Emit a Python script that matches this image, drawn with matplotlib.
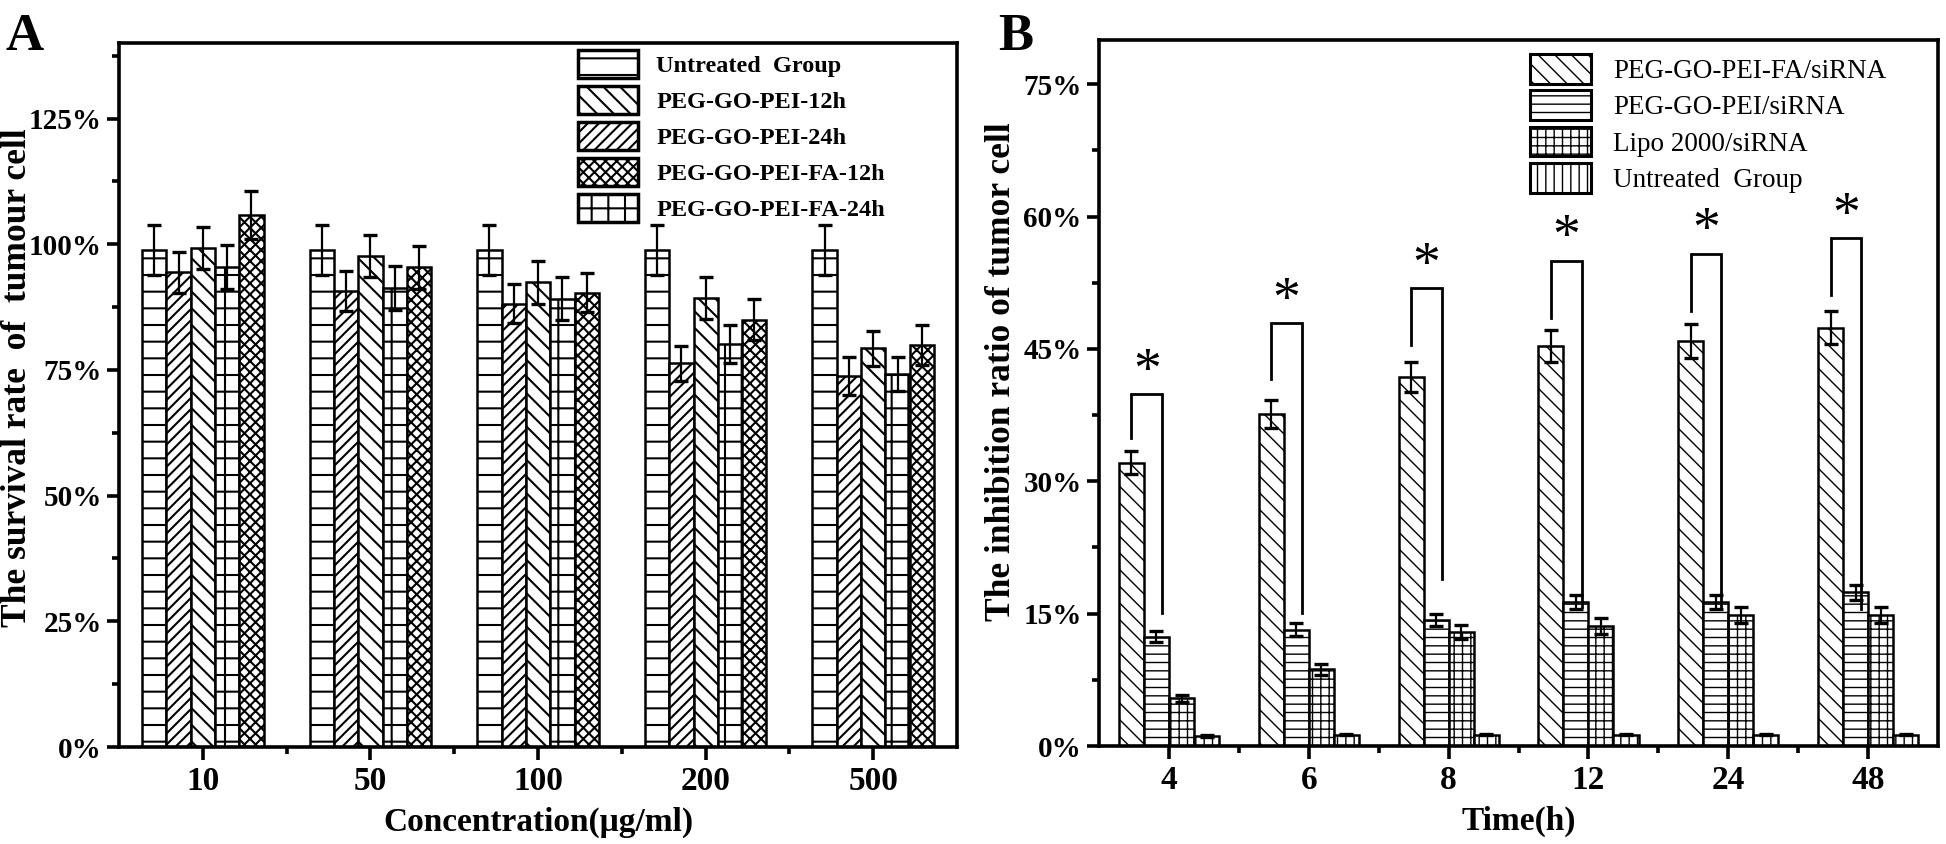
import matplotlib
matplotlib.use('Agg')
import matplotlib.pyplot as plt
from matplotlib.patches import Patch
from matplotlib.ticker import MultipleLocator, FuncFormatter
import numpy as np

plt.rcParams['font.family'] = ['Liberation Serif', 'DejaVu Serif']
plt.rcParams['font.weight'] = 'bold'

# ---- panel A data (survival rate, %) ----
conc = ['10', '50', '100', '200', '500']
untreated_a = [98.8, 98.8, 98.8, 98.8, 98.8]
untreated_a_err = [5.0, 5.0, 5.0, 5.0, 5.0]
pei_12h = [99.3, 97.7, 92.4, 89.3, 79.3]
pei_12h_err = [4.2, 4.2, 4.3, 4.2, 3.5]
pei_24h = [94.4, 90.7, 88.2, 76.3, 73.8]
pei_24h_err = [4.1, 3.9, 3.8, 3.5, 3.7]
fa_12h = [105.8, 95.4, 90.4, 85.0, 80.0]
fa_12h_err = [4.7, 4.3, 3.9, 4.1, 4.0]
fa_24h = [95.5, 91.3, 89.2, 80.2, 74.2]
fa_24h_err = [4.4, 4.4, 4.3, 3.8, 3.3]

# ---- panel B data (inhibition ratio, %) ----
times = ['4', '6', '8', '12', '24', '48']
fa_sirna = [32.1, 37.6, 41.8, 45.3, 45.9, 47.4]
fa_sirna_err = [1.3, 1.6, 1.7, 1.8, 1.9, 1.9]
pei_sirna = [12.4, 13.2, 14.3, 16.3, 16.3, 17.4]
pei_sirna_err = [0.6, 0.7, 0.7, 0.8, 0.8, 0.8]
lipo_sirna = [5.4, 8.7, 12.9, 13.6, 14.8, 14.8]
lipo_sirna_err = [0.4, 0.6, 0.8, 0.9, 0.9, 0.9]
untreated_b = [1.1, 1.3, 1.3, 1.3, 1.3, 1.3]
untreated_b_err = [0.1, 0.1, 0.1, 0.1, 0.1, 0.1]

# significance brackets in B (top, left leg end, right leg end)
sig_top = [39.9, 47.9, 51.9, 55.0, 55.8, 57.6]
sig_left = [34.9, 41.6, 45.4, 48.5, 49.3, 51.1]
sig_right = [15.1, 15.1, 18.9, 15.8, 15.8, 15.5]

fig = plt.figure(figsize=(19.46, 8.44), dpi=100)
axA = fig.add_axes([0.0612, 0.1149, 0.4306, 0.834])
axB = fig.add_axes([0.5648, 0.1161, 0.4311, 0.8365])


def draw_bars(ax, x, vals, errs, hatch, w, hlw):
    bars = ax.bar(x, vals, w, color='white', edgecolor='black', linewidth=1.8,
                  hatch=hatch, zorder=2)
    for b in bars:
        if hasattr(b, 'set_hatch_linewidth'):
            b.set_hatch_linewidth(hlw)
    ax.errorbar(x, vals, yerr=errs, fmt='none', ecolor='black', elinewidth=1.6,
                capsize=4.7, capthick=2.4, zorder=3)


def style_axis(ax, ymax, ymajor, ylabels_fs, xlabels_fs):
    for s in ax.spines.values():
        s.set_linewidth(2.6)
    ax.set_ylim(0, ymax)
    ax.yaxis.set_major_locator(MultipleLocator(ymajor))
    ax.yaxis.set_minor_locator(MultipleLocator(ymajor / 2))
    ax.yaxis.set_major_formatter(FuncFormatter(lambda v, p: '%d%%' % round(v)))
    ax.tick_params(which='major', direction='out', length=9, width=2.6)
    ax.tick_params(which='minor', direction='out', length=5, width=2.6)
    ax.tick_params(axis='y', labelsize=ylabels_fs)
    ax.tick_params(axis='x', labelsize=xlabels_fs, pad=5)


# ---------------- panel A ----------------
plt.rcParams['hatch.linewidth'] = 1.5
xa = np.arange(len(conc))
wa = 0.145
# drawing order as in the figure
series_a = [
    (untreated_a, untreated_a_err, '-'),
    (pei_24h, pei_24h_err, '///'),
    (pei_12h, pei_12h_err, '\\\\'),
    (fa_24h, fa_24h_err, '+'),
    (fa_12h, fa_12h_err, 'xxx'),
]
for i, (v, e, h) in enumerate(series_a):
    draw_bars(axA, xa + (i - 2) * wa, v, e, h, wa, 1.5)

style_axis(axA, 140, 25, 21, 24)
axA.set_xlim(-0.5, len(conc) - 0.5)
axA.set_xticks(xa)
axA.set_xticklabels(conc)
axA.set_xticks(xa[:-1] + 0.5, minor=True)
axA.set_xlabel('Concentration(μg/ml)', fontsize=24, fontweight='bold')
axA.xaxis.set_label_coords(0.5, -0.085)
axA.set_ylabel('The survival rate  of  tumour cell', fontsize=25.5, fontweight='bold')
axA.yaxis.set_label_coords(-0.102, 0.525)

leg_a = [
    Patch(facecolor='white', edgecolor='black', linewidth=2.5, hatch='-', label='Untreated  Group'),
    Patch(facecolor='white', edgecolor='black', linewidth=2.5, hatch='\\\\', label='PEG-GO-PEI-12h'),
    Patch(facecolor='white', edgecolor='black', linewidth=2.5, hatch='///', label='PEG-GO-PEI-24h'),
    Patch(facecolor='white', edgecolor='black', linewidth=2.5, hatch='xxx', label='PEG-GO-PEI-FA-12h'),
    Patch(facecolor='white', edgecolor='black', linewidth=2.5, hatch='+', label='PEG-GO-PEI-FA-24h'),
]
axA.legend(handles=leg_a, loc='upper left', bbox_to_anchor=(0.548, 0.99), frameon=False,
           prop={'family': 'Liberation Serif', 'weight': 'bold', 'size': 17.5},
           handlelength=2.45, handleheight=1.4, labelspacing=0.32, handletextpad=0.75,
           borderpad=0, borderaxespad=0)

# ---------------- panel B ----------------
plt.rcParams['hatch.linewidth'] = 1.0
xb = np.arange(len(times))
wb = 0.179
series_b = [
    (fa_sirna, fa_sirna_err, '\\\\'),
    (pei_sirna, pei_sirna_err, '--'),
    (lipo_sirna, lipo_sirna_err, '++'),
    (untreated_b, untreated_b_err, '||'),
]
for i, (v, e, h) in enumerate(series_b):
    draw_bars(axB, xb + (i - 1.5) * wb, v, e, h, wb, 1.0)

style_axis(axB, 80, 15, 21, 24)
axB.set_xlim(-0.5, len(times) - 0.5)
axB.set_xticks(xb)
axB.set_xticklabels(times)
axB.set_xticks(xb[:-1] + 0.5, minor=True)
axB.set_xlabel('Time(h)', fontsize=24, fontweight='bold')
axB.xaxis.set_label_coords(0.5, -0.085)
axB.set_ylabel('The inhibition ratio of tumor cell', fontsize=25.5, fontweight='bold')
axB.yaxis.set_label_coords(-0.097, 0.53)

# significance brackets
for i in range(len(times)):
    xl = xb[i] - 1.5 * wb
    xr = xb[i] - 0.5 * wb + 0.04
    axB.plot([xl, xl, xr, xr], [sig_left[i], sig_top[i], sig_top[i], sig_right[i]],
             color='black', linewidth=2.0, solid_joinstyle='miter', zorder=4)
    axB.text((xl + xr) / 2, sig_top[i] + 2.4, '*', ha='center', va='center',
             fontsize=40, fontweight='normal', family='Liberation Serif')

leg_b = [
    Patch(facecolor='white', edgecolor='black', linewidth=2.2, hatch='\\\\', label='PEG-GO-PEI-FA/siRNA'),
    Patch(facecolor='white', edgecolor='black', linewidth=2.2, hatch='--', label='PEG-GO-PEI/siRNA'),
    Patch(facecolor='white', edgecolor='black', linewidth=2.2, hatch='++', label='Lipo 2000/siRNA'),
    Patch(facecolor='white', edgecolor='black', linewidth=2.2, hatch='||', label='Untreated  Group'),
]
axB.legend(handles=leg_b, loc='upper left', bbox_to_anchor=(0.514, 0.98), frameon=False,
           prop={'family': 'Liberation Serif', 'weight': 'normal', 'size': 19.5},
           handlelength=2.25, handleheight=1.3, labelspacing=0.24, handletextpad=0.8,
           borderpad=0, borderaxespad=0)

fig.text(0.003, 0.985, 'A', fontsize=38, fontweight='bold', va='top', ha='left')
fig.text(0.513, 0.985, 'B', fontsize=38, fontweight='bold', va='top', ha='left')

fig.savefig('out.png', dpi=100)
